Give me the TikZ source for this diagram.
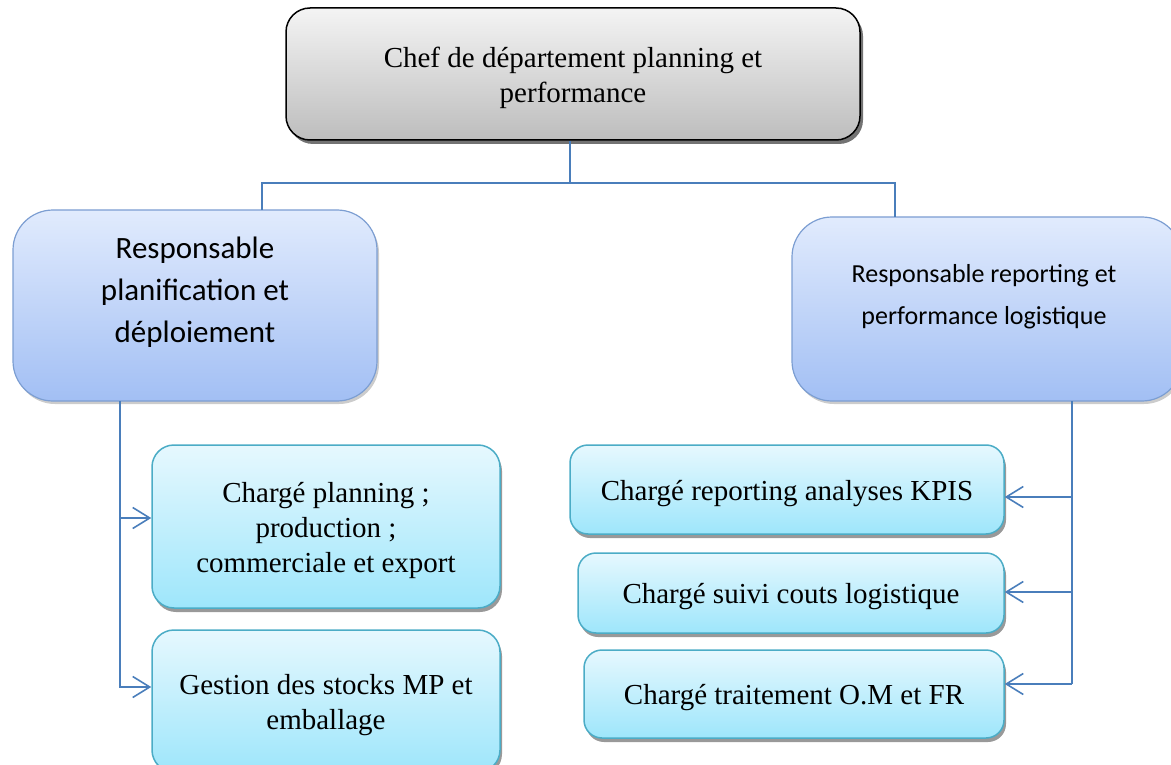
\documentclass[tikz,border=0pt]{standalone}
\usepackage{fontspec}
\setmainfont{Liberation Serif}
\newfontfamily\calib{Carlito}
\usetikzlibrary{arrows.meta,shadows}
\definecolor{linkblue}{HTML}{4A7EBB}
\definecolor{grayTop}{HTML}{F4F4F4}
\definecolor{grayBot}{HTML}{BDBDBD}
\definecolor{blueTop}{HTML}{E1EBFD}
\definecolor{blueBot}{HTML}{A2BFF4}
\definecolor{blueEdge}{HTML}{7C9ED2}
\definecolor{cyanTop}{HTML}{E6F8FE}
\definecolor{cyanBot}{HTML}{9EE6FB}
\definecolor{cyanEdge}{HTML}{4BACC6}
\tikzset{
  headbox/.style={draw=black, line width=1.5pt, rounded corners=24pt,
    shading=axis, top color=grayTop, bottom color=grayBot,
    drop shadow={shadow xshift=3pt, shadow yshift=-4pt, fill=black, opacity=0.55}},
  respbox/.style={draw=blueEdge, line width=1.2pt, rounded corners=40pt,
    shading=axis, top color=blueTop, bottom color=blueBot,
    drop shadow={shadow xshift=2pt, shadow yshift=-3pt, fill=black, opacity=0.2}},
  taskbox/.style={draw=cyanEdge, line width=1.5pt, rounded corners=22pt,
    shading=axis, top color=cyanTop, bottom color=cyanBot,
    drop shadow={shadow xshift=2pt, shadow yshift=-4pt, fill=black, opacity=0.4}},
  serifText/.style={font=\fontsize{29}{35}\selectfont, align=center, yshift=-4pt},
  conn/.style={draw=linkblue, line width=1.6pt},
  arr/.style={conn, -{Straight Barb[length=17pt, width=21pt, line width=1.6pt]}}
}
\begin{document}
\begin{tikzpicture}[x=1pt, y=-1pt]
\useasboundingbox (0,0) rectangle (1171,765);

% head of department
\node[headbox, minimum width=574pt, minimum height=132pt] (chef) at (573,74) {};
\node[serifText] (chefT) at (chef.center) {Chef de département planning et\\performance};

% the two managers
\node[respbox, minimum width=364pt, minimum height=191pt] (resp1) at (195,305.5) {};
\node[font=\calib\fontsize{31}{42}\selectfont, align=center] (resp1t) at (195,292)
  {Responsable\\planification et\\déploiement};

\node[respbox, minimum width=390pt, minimum height=184pt] (resp2) at (987,309) {};
\node[font=\calib\fontsize{26}{42}\selectfont, align=center] (resp2t) at (984,297)
  {Responsable reporting et\\performance logistique};

% planning team
\node[taskbox, minimum width=348pt, minimum height=163pt] (plan) at (326,526.5) {};
\node[serifText] (planT) at (plan.center) {Chargé planning ;\\production ;\\commerciale et export};
\node[taskbox, minimum width=348pt, minimum height=142pt] (stock) at (326,701) {};
\node[serifText] (stockT) at (stock.center) {Gestion des stocks MP et\\emballage};

% reporting team
\node[taskbox, rounded corners=18pt, minimum width=434pt, minimum height=89pt] (kpi) at (787,489.5) {};
\node[serifText] (kpiT) at (kpi.center) {Chargé reporting analyses KPIS};
\node[taskbox, rounded corners=18pt, minimum width=426pt, minimum height=80pt] (cout) at (791,593) {};
\node[serifText] (coutT) at (cout.center) {Chargé suivi couts logistique};
\node[taskbox, rounded corners=18pt, minimum width=420pt, minimum height=88pt] (om) at (794,694) {};
\node[serifText] (omT) at (om.center) {Chargé traitement O.M et FR};

% hierarchy links
\coordinate (bus) at (570,183);
\coordinate (drop1) at (262,210);
\coordinate (drop2) at (895,217);
\draw[conn] (chef.south -| bus) -- (bus);
\draw[conn] (drop1) |- (bus) -| (drop2);

\coordinate (left1) at (120,401);
\coordinate (right1) at (1072,401);
\draw[conn] (left1) |- (150,687);
\draw[arr] (left1 |- 0,518) -- (plan.west |- 0,518);
\draw[arr] (left1 |- 0,687) -- (stock.west |- 0,687);

\draw[conn] (right1) -- (1072,684);
\draw[arr] (right1 |- 0,497) -- (kpi.east |- 0,497);
\draw[arr] (right1 |- 0,592) -- (cout.east |- 0,592);
\draw[arr] (right1 |- 0,684) -- (om.east |- 0,684);
\end{tikzpicture}
\end{document}
